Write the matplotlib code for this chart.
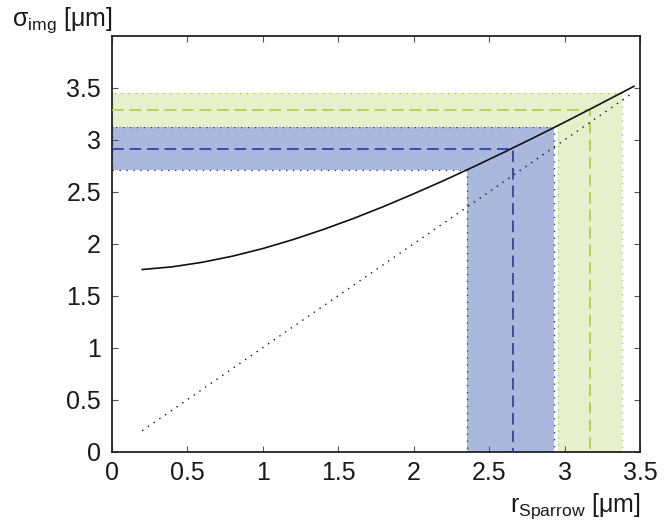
import matplotlib
matplotlib.use("Agg")
import matplotlib.pyplot as plt
from matplotlib.patches import Polygon

plt.rcParams['font.family'] = ['Liberation Sans', 'DejaVu Sans']
plt.rcParams['mathtext.fontset'] = 'custom'
plt.rcParams['mathtext.rm'] = 'Liberation Sans'
plt.rcParams['mathtext.it'] = 'Liberation Sans:italic'

# Image width as a function of Sparrow distance
r_curve = [0.2, 0.4, 0.6, 0.8, 1.0, 1.2, 1.4, 1.6, 1.8, 2.0, 2.2, 2.4, 2.6, 2.8, 3.0, 3.2, 3.46]
sigma_curve = [1.752, 1.778, 1.822, 1.881, 1.954, 2.040, 2.137, 2.243, 2.358, 2.481,
               2.609, 2.743, 2.882, 3.024, 3.170, 3.319, 3.516]

# Identity reference line
r_ident = [0.2, 3.45]
sigma_ident = [0.2, 3.45]

# Blue range: (low, nominal, high) in sigma and r
blue_sigma = [2.71, 2.913, 3.12]
blue_r = [2.353, 2.655, 2.929]

# Green range
green_sigma = [3.131, 3.29, 3.452]
green_r = [2.956, 3.166, 3.378]

xticks = [0, 0.5, 1, 1.5, 2, 2.5, 3, 3.5]
xticklabels = ['0', '0.5', '1', '1.5', '2', '2.5', '3', '3.5']
yticks = [0, 0.5, 1, 1.5, 2, 2.5, 3, 3.5]
yticklabels = ['0', '0.5', '1', '1.5', '2', '2.5', '3', '3.5']

blue_fill = '#aab8de'
blue_line = '#2c399e'
green_fill = '#e7f0cc'
green_line = '#a6d13c'

fig = plt.figure(figsize=(6.65, 5.27), dpi=100)
ax = fig.add_axes([112 / 665, (527 - 451.5) / 527, 528 / 665, 415.5 / 527])


def band(ax, s, r, fill, edge):
    s_lo, s_mid, s_hi = s
    r_lo, r_mid, r_hi = r
    verts = [(0, s_lo), (r_lo, s_lo), (r_lo, 0), (r_hi, 0), (r_hi, s_hi), (0, s_hi)]
    ax.add_patch(Polygon(verts, closed=True, facecolor=fill, edgecolor='none', zorder=1))
    ax.add_patch(Polygon(verts, closed=True, facecolor='none', edgecolor=edge,
                         linewidth=1.0, linestyle=(0, (1, 4)), zorder=2))
    ax.plot([0, r_mid, r_mid], [s_mid, s_mid, 0], color=edge, linewidth=1.2,
            linestyle=(0, (7, 3.5)), zorder=3)


band(ax, green_sigma, green_r, green_fill, green_line)
band(ax, blue_sigma, blue_r, blue_fill, blue_line)

ax.plot(r_curve, sigma_curve, color='#111111', linewidth=1.2, zorder=5)
ax.plot(r_ident, sigma_ident, color='#111111', linewidth=1.0,
        linestyle=(0, (1, 4)), zorder=5)

ax.set_xlim(0, 3.5)
ax.set_ylim(0, 4)
ax.set_xticks(xticks)
ax.set_xticklabels(xticklabels)
ax.set_yticks(yticks)
ax.set_yticklabels(yticklabels)
ax.tick_params(direction='in', length=4, width=0.8, color='#555555',
               top=True, right=True, labelsize=18, labelcolor='#1a1a1a')
ax.tick_params(axis='x', pad=7)
ax.tick_params(axis='y', pad=8)
for sp in ax.spines.values():
    sp.set_linewidth(1.3)
    sp.set_color('#222222')

fig.text(12 / 665, 1 - 26 / 527, r'$\mathrm{\sigma_{img}}$ [μm]', fontsize=18,
         ha='left', va='baseline', color='#1a1a1a')
fig.text(641 / 665, 1 - 512 / 527, r'$\mathrm{r_{Sparrow}}$ [μm]', fontsize=18,
         ha='right', va='baseline', color='#1a1a1a')

fig.savefig('out.png', dpi=100)
